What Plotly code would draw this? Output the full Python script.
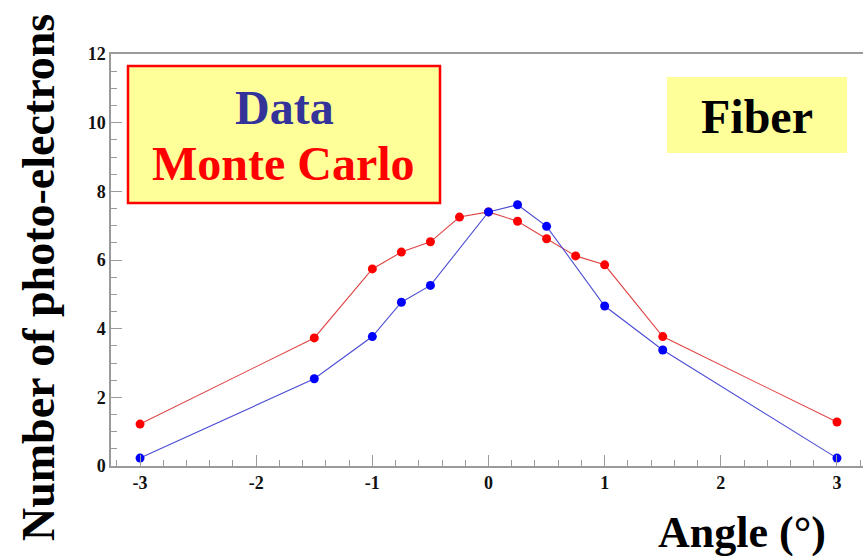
import plotly.graph_objects as go

# ---- data ----
angles = [-3, -1.5, -1, -0.75, -0.5, -0.25, 0, 0.25, 0.5, 0.75, 1, 1.5, 3]
mc_values = [1.22, 3.73, 5.74, 6.23, 6.53, 7.25, 7.40, 7.13, 6.62, 6.12, 5.86, 3.77, 1.28]
data_angles = [-3, -1.5, -1, -0.75, -0.5, 0, 0.25, 0.5, 1, 1.5, 3]
data_values = [0.23, 2.54, 3.77, 4.77, 5.26, 7.40, 7.61, 6.98, 4.66, 3.38, 0.23]
x_tick_vals = [-3, -2, -1, 0, 1, 2, 3]
y_tick_vals = [0, 2, 4, 6, 8, 10, 12]

W, H = 863, 556
L, R, T, B = 111, 863, 54, 466  # plot area in pixels


def px(xp):
    return (xp - L) / (R - L)


def py(yp):
    return (B - yp) / (B - T)


SERIF = "Liberation Serif"

fig = go.Figure()
fig.add_trace(go.Scatter(
    x=angles, y=mc_values, mode="lines+markers", name="Monte Carlo",
    line=dict(color="#e04444", width=1.1),
    marker=dict(color="#ff0000", size=9),
    showlegend=False,
))
fig.add_trace(go.Scatter(
    x=data_angles, y=data_values, mode="lines+markers", name="Data",
    line=dict(color="#4c4cd4", width=1.1),
    marker=dict(color="#0000ff", size=9),
    showlegend=False,
))

axis_color = "#9a9a9a"
fig.update_xaxes(
    range=[-3.25, 3.224], showgrid=False, zeroline=False,
    showline=True, linecolor=axis_color, linewidth=1.5, mirror=True,
    tickvals=x_tick_vals, ticktext=[str(v) for v in x_tick_vals],
    ticks="inside", ticklen=11, tickcolor=axis_color, tickwidth=1,
    tickfont=dict(family=SERIF, size=18, color="#111111", weight="bold"),
    minor=dict(dtick=0.2, tick0=0, ticks="inside", ticklen=6, tickcolor=axis_color),
)
fig.update_yaxes(
    range=[0, 12], showgrid=False, zeroline=False,
    showline=True, linecolor=axis_color, linewidth=1.5, mirror=False,
    tickvals=y_tick_vals, ticktext=[str(v) for v in y_tick_vals],
    ticks="inside", ticklen=11, tickcolor=axis_color, tickwidth=1,
    tickfont=dict(family=SERIF, size=18, color="#111111", weight="bold"),
    minor=dict(dtick=0.5, tick0=0, ticks="inside", ticklen=6, tickcolor=axis_color),
)

shapes = [
    dict(type="rect", xref="paper", yref="paper",
         x0=px(128), x1=px(440), y0=py(203), y1=py(66),
         fillcolor="#ffff99", line=dict(color="#ff0000", width=2.5), layer="above"),
    dict(type="rect", xref="paper", yref="paper",
         x0=px(667), x1=px(847), y0=py(153), y1=py(77),
         fillcolor="#ffff99", line=dict(width=0), layer="above"),
]

annotations = [
    dict(text="Data", x=px(284), y=py(107), xref="paper", yref="paper",
         showarrow=False, xanchor="center", yanchor="middle",
         font=dict(family=SERIF, size=48, color="#333399", weight="bold")),
    dict(text="Monte Carlo", x=px(283), y=py(163), xref="paper", yref="paper",
         showarrow=False, xanchor="center", yanchor="middle",
         font=dict(family=SERIF, size=48, color="#ff0000", weight="bold")),
    dict(text="Fiber", x=px(757), y=py(116), xref="paper", yref="paper",
         showarrow=False, xanchor="center", yanchor="middle",
         font=dict(family=SERIF, size=48, color="#000000", weight="bold")),
    dict(text="Angle (°)", x=px(828), y=py(532), xref="paper", yref="paper",
         showarrow=False, xanchor="right", yanchor="middle",
         font=dict(family=SERIF, size=44, color="#000000", weight="bold")),
    dict(text="Number of photo-electrons", x=px(38), y=py(278), xref="paper", yref="paper",
         showarrow=False, xanchor="center", yanchor="middle", textangle=-90,
         font=dict(family=SERIF, size=46, color="#000000", weight="bold")),
]

fig.update_layout(
    width=W, height=H,
    margin=dict(l=L, r=W - R, t=T, b=H - B, pad=0),
    paper_bgcolor="white", plot_bgcolor="white",
    shapes=shapes, annotations=annotations,
)

fig.write_html("out.html")
